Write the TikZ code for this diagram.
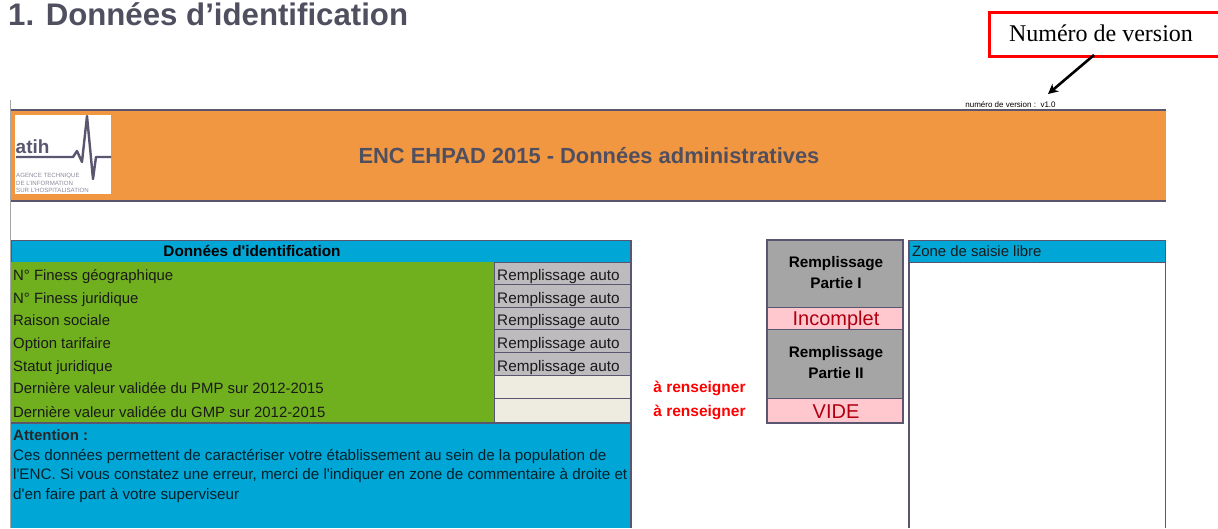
\documentclass[tikz,border=0pt]{standalone}
\usepackage{fontspec}
\setmainfont{Liberation Sans}[Ligatures=TeXOff]
\newfontfamily\timesf{Liberation Serif}
\usetikzlibrary{arrows.meta}
\definecolor{frameC}{HTML}{5B5670}
\definecolor{orangeC}{HTML}{F29741}
\definecolor{blueC}{HTML}{00A6D6}
\definecolor{greenC}{HTML}{70B01E}
\definecolor{grayC}{HTML}{BDBBBD}
\definecolor{darkgrayC}{HTML}{A5A5A5}
\definecolor{creamC}{HTML}{EEECE1}
\definecolor{pinkC}{HTML}{FFC7CE}
\definecolor{redtxt}{HTML}{B00010}
\definecolor{txtC}{HTML}{1A1A1A}
\definecolor{titleC}{HTML}{4F4F5F}
\tikzset{
  x=1pt,y=-1pt,
  cell/.style={draw=frameC,line width=0.9pt},
  lab/.style={anchor=base west,inner sep=0pt,font=\fontsize{14.9}{16}\selectfont,text=txtC},
  autolab/.style={anchor=base west,inner sep=0pt,font=\fontsize{15.3}{16}\selectfont,text=txtC},
  boldlab/.style={anchor=center,inner sep=0pt,align=center,font=\fontsize{15.3}{21}\selectfont\bfseries,text=black},
  warn/.style={anchor=base,inner sep=0pt,font=\fontsize{15.5}{16}\selectfont\bfseries,text=red},
  statustxt/.style={anchor=base,inner sep=0pt,font=\fontsize{20}{22}\selectfont,text=redtxt},
}
\begin{document}
\begin{tikzpicture}
\useasboundingbox (0,0) rectangle (1218,528);
\fill[white] (0,0) rectangle (1218,528);
% title
\node[anchor=west,inner sep=0pt,font=\fontsize{31.2}{34}\selectfont\bfseries,text=titleC] (title) at (8,14) {1. Données d’identification};
% left sheet edge
\draw[gray!70,line width=0.8pt] (10.5,100) -- (10.5,528);
% banner
\fill[orangeC] (11,110) rectangle (1166,201);
\draw[frameC,line width=1.4pt] (11,110) -- (1166,110);
\draw[frameC,line width=1.4pt] (11,201) -- (1166,201);
\node[anchor=center,inner sep=0pt,font=\fontsize{21.9}{24}\selectfont\bfseries,text=titleC] (bantitle) at (589,156) {ENC EHPAD 2015 - Données administratives};
% logo
\fill[white] (15,115) rectangle (111,194);
\node[anchor=base west,inner sep=0pt,font=\fontsize{19}{22}\selectfont\bfseries,text=frameC] (atih) at (15.5,153.5) {atih};
\draw[frameC,line width=2.4pt,line join=round] (16,157) -- (73,157) -- (77,151) -- (82,162) -- (87,116) -- (93,179) -- (96,157) -- (111,157);
\node[anchor=north west,inner sep=0pt,align=left,font=\fontsize{6.1}{7.3}\selectfont,text=frameC!70] (logotxt) at (16,173.5) {AGENCE TECHNIQUE\\DE L’INFORMATION\\SUR L’HOSPITALISATION};
% version
\node[anchor=center,inner sep=0pt,font=\fontsize{8}{8}\selectfont,text=black] (version) at (1010.5,104.5) {numéro de version :\ \ v1.0};
\node[draw=red,line width=3pt,fill=white,anchor=north west,minimum width=240pt,minimum height=44pt,inner sep=0pt] (callout) at (988,11) {};
\node[anchor=center,inner sep=0pt,font=\timesf\fontsize{24}{26}\selectfont,text=black] (callouttxt) at (1101,33) {Numéro de version};
\coordinate (arrowstart) at (1094,55);
\coordinate (arrowend) at (1048,94);
\draw[black,line width=2.6pt,-{Stealth[length=10pt,width=10pt]}] (arrowstart) -- (arrowend);
% table header
\node[cell,fill=blueC,anchor=north west,minimum width=620pt,minimum height=22pt,inner sep=0pt] (head) at (11,240) {};
\node[anchor=center,inner sep=0pt,font=\fontsize{15.3}{16}\selectfont\bfseries,text=black] (headtxt) at (252,251) {Données d'identification};
% rows
\foreach \ya/\yb/\yt/\txt/\i in {262/284/280/N° Finess géographique/1,284/307/303/N° Finess juridique/2,307/329/325/Raison sociale/3,329/352/348/Option tarifaire/4,352/375/371/Statut juridique/5,375/398/393/Dernière valeur validée du PMP sur 2012-2015/6,398/423/417/Dernière valeur validée du GMP sur 2012-2015/7}{
  \fill[greenC] (11,\ya) rectangle (494,\yb);
  \draw[frameC,line width=0.9pt] (11,\yb) -- (494,\yb);
  \node[lab] (r\i) at (13,\yt) {\txt};
}
\foreach \ya/\yb/\yt/\i in {262/284/280/1,284/307/303/2,307/329/325/3,329/352/348/4,352/375/371/5}{
  \draw[cell,fill=grayC] (494,\ya) rectangle (631,\yb);
  \node[autolab] (a\i) at (497,\yt) {Remplissage auto};
}
\foreach \ya/\yb in {375/398,398/423}{
  \draw[cell,fill=creamC] (494,\ya) rectangle (631,\yb);
}
% warnings
\node[warn] (w1) at (699.5,392) {à renseigner};
\node[warn] (w2) at (699.5,416) {à renseigner};
% attention block
\fill[blueC] (11,423) rectangle (631,528);
\draw[frameC,line width=1.2pt] (11,423) -- (631,423);
\draw[frameC,line width=1.4pt] (631,240) -- (631,528);
\node[anchor=base west,inner sep=0pt,font=\fontsize{15}{16}\selectfont\bfseries,text=black!85] (att) at (13,440) {Attention :};
\node[anchor=north west,inner sep=0pt,align=left,font=\fontsize{15.2}{19.5}\selectfont,text=black!80!blueC] (atttxt) at (13,449) {Ces données permettent de caractériser votre établissement au sein de la population de\\l'ENC. Si vous constatez une erreur, merci de l'indiquer en zone de commentaire à droite et\\d'en faire part à votre superviseur};
% status column
\fill[darkgrayC] (767,240) rectangle (903,307);
\fill[pinkC] (767,307) rectangle (903,329);
\fill[darkgrayC] (767,329) rectangle (903,398);
\fill[pinkC] (767,398) rectangle (903,423);
\draw[frameC,line width=0.9pt] (767,307) -- (903,307) (767,329) -- (903,329) (767,398) -- (903,398);
\draw[frameC,line width=1.6pt] (767,240) rectangle (903,423);
\node[boldlab] (s1) at (836,273) {Remplissage\\Partie I};
\node[statustxt] (s2) at (836,325) {Incomplet};
\node[boldlab] (s3) at (836,363) {Remplissage\\Partie II};
\node[statustxt] (s4) at (836,418) {VIDE};
% free zone
\fill[blueC] (909,240) rectangle (1166,262);
\draw[frameC,line width=0.9pt] (909,240) -- (1165.5,240) (909,262) -- (1165.5,262);
\draw[frameC,line width=1.2pt] (909,240) -- (909,528);
\draw[frameC,line width=1pt] (1165.5,240) -- (1165.5,528);
\node[lab] (z) at (912,256.5) {Zone de saisie libre};
\end{tikzpicture}
\end{document}
